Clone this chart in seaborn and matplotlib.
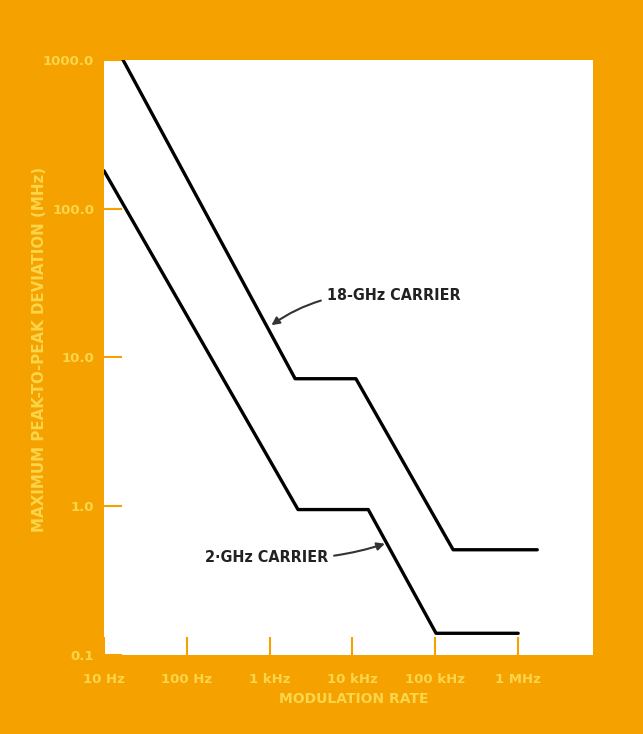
import matplotlib

matplotlib.use("Agg")
import matplotlib.pyplot as plt
import pandas as pd
import seaborn as sns

# modulation rate (Hz) vs max peak-to-peak deviation (MHz)
rate_18ghz = [17, 2030, 11000, 164000, 1.7e6]
dev_18ghz = [1000, 7.2, 7.2, 0.51, 0.51]

rate_2ghz = [10, 2200, 15500, 102000, 1.0e6]
dev_2ghz = [180, 0.95, 0.95, 0.14, 0.14]

x_ticks = [10, 100, 1e3, 1e4, 1e5, 1e6]
x_labels = ["10 Hz", "100 Hz", "1 kHz", "10 kHz", "100 kHz", "1 MHz"]
y_ticks = [0.1, 1, 10, 100, 1000]
y_labels = ["0.1", "1.0", "10.0", "100.0", "1000.0"]

ORANGE = "#F5A200"
PALE = "#FBD54A"

df = pd.concat([
    pd.DataFrame({"rate": rate_18ghz, "dev": dev_18ghz, "carrier": "18-GHz"}),
    pd.DataFrame({"rate": rate_2ghz, "dev": dev_2ghz, "carrier": "2-GHz"}),
])

sns.set_style("white")
plt.rcParams["font.family"] = ["DejaVu Sans"]

fig = plt.figure(figsize=(6.43, 7.34), dpi=100, facecolor=ORANGE)
ax = fig.add_axes([0.1617, 0.1076, 0.7605, 0.8107])
ax.set_facecolor("white")

sns.lineplot(data=df, x="rate", y="dev", units="carrier", estimator=None,
             sort=False, color="black", linewidth=2.4, ax=ax)

ax.set_xscale("log")
ax.set_yscale("log")
ax.set_xlim(10, 8e6)
ax.set_ylim(0.1, 1000)

ax.set_xticks(x_ticks)
ax.set_xticklabels(x_labels)
ax.set_yticks(y_ticks)
ax.set_yticklabels(y_labels)
ax.minorticks_off()
ax.tick_params(axis="both", direction="in", length=13, width=1.5,
               bottom=True, left=True,
               color=ORANGE, labelcolor=PALE, labelsize=9.5)
ax.tick_params(axis="x", pad=13)
ax.tick_params(axis="y", pad=7)
for lbl in ax.get_yticklabels() + ax.get_xticklabels():
    lbl.set_fontweight("bold")

ax.set_xlabel("MODULATION RATE", color=PALE, fontsize=10, fontweight="bold")
ax.xaxis.set_label_coords(0.51, -0.062)
ax.set_ylabel("MAXIMUM PEAK-TO-PEAK DEVIATION (MHz)", color=PALE,
              fontsize=10.8, fontweight="bold")
ax.yaxis.set_label_coords(-0.117, 0.513)

for s in ax.spines.values():
    s.set_visible(False)

# carrier labels with curved arrows
ax.annotate("18-GHz CARRIER", xy=(1050, 16.5), xytext=(4900, 26),
            fontsize=11.5, fontweight="bold", fontstretch="condensed",
            color="#222222", va="center", ha="left",
            arrowprops=dict(arrowstyle="-|>", color="#333333", lw=1.5,
                            connectionstyle="arc3,rad=0.2", shrinkB=0))
ax.annotate("2\u00b7GHz CARRIER", xy=(24600, 0.56), xytext=(5070, 0.45),
            ha="right", va="center", fontsize=11.5, fontweight="bold",
            fontstretch="condensed", color="#222222",
            arrowprops=dict(arrowstyle="-|>", color="#333333", lw=1.5,
                            connectionstyle="arc3,rad=0.1", shrinkB=0))

plt.savefig("out.png", dpi=100, facecolor=ORANGE)
